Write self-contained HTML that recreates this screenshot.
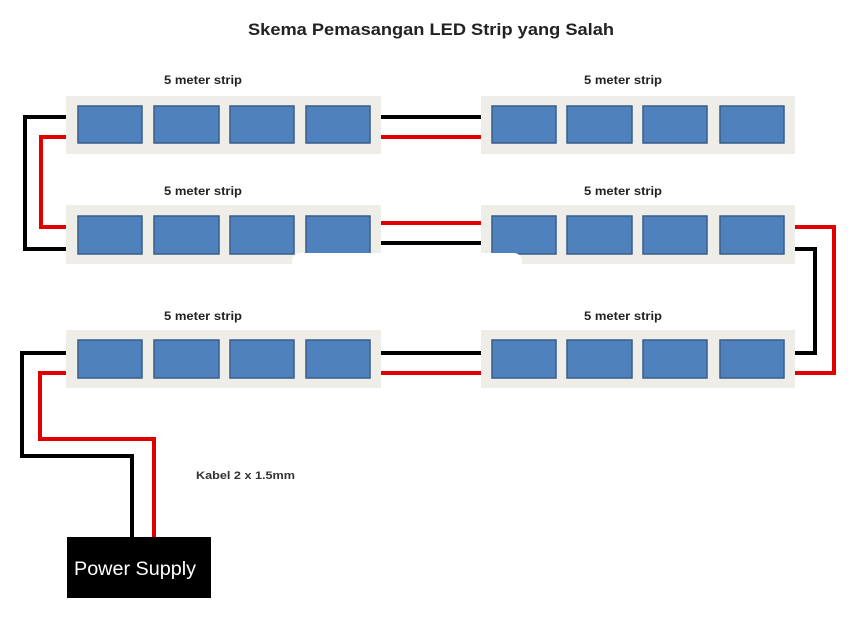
<!DOCTYPE html>
<html><head><meta charset="utf-8"><style>
body{margin:0;background:#fff;width:862px;height:625px;overflow:hidden}
</style></head><body>
<svg width="862" height="625" viewBox="0 0 862 625" xmlns="http://www.w3.org/2000/svg" font-family="Liberation Sans, sans-serif">
<rect width="862" height="625" fill="#fff"/>
<text x="431" y="35" text-anchor="middle" font-size="17" font-weight="bold" fill="#222" textLength="366" lengthAdjust="spacingAndGlyphs">Skema Pemasangan LED Strip yang Salah</text>
<g font-size="11.5" font-weight="bold" fill="#222" text-anchor="middle">
<text x="203" y="84" textLength="78" lengthAdjust="spacingAndGlyphs">5 meter strip</text><text x="623" y="84" textLength="78" lengthAdjust="spacingAndGlyphs">5 meter strip</text>
<text x="203" y="195" textLength="78" lengthAdjust="spacingAndGlyphs">5 meter strip</text><text x="623" y="195" textLength="78" lengthAdjust="spacingAndGlyphs">5 meter strip</text>
<text x="203" y="320" textLength="78" lengthAdjust="spacingAndGlyphs">5 meter strip</text><text x="623" y="320" textLength="78" lengthAdjust="spacingAndGlyphs">5 meter strip</text>
</g>
<g fill="#eeede8">
<rect x="66" y="96" width="315" height="58"/><rect x="481" y="96" width="314" height="58"/>
<rect x="66" y="205" width="315" height="59"/><rect x="481" y="205" width="314" height="59"/>
<rect x="66" y="330" width="315" height="58"/><rect x="481" y="330" width="314" height="58"/>
</g>
<g fill="#4f81bd" stroke="#385d8a" stroke-width="1.5">
<rect x="78" y="106" width="64" height="37"/><rect x="154" y="106" width="65" height="37"/><rect x="230" y="106" width="64" height="37"/><rect x="306" y="106" width="64" height="37"/>
<rect x="492" y="106" width="64" height="37"/><rect x="567" y="106" width="65" height="37"/><rect x="643" y="106" width="64" height="37"/><rect x="720" y="106" width="64" height="37"/>
<rect x="78" y="216" width="64" height="38"/><rect x="154" y="216" width="65" height="38"/><rect x="230" y="216" width="64" height="38"/><rect x="306" y="216" width="64" height="38"/>
<rect x="492" y="216" width="64" height="38"/><rect x="567" y="216" width="65" height="38"/><rect x="643" y="216" width="64" height="38"/><rect x="720" y="216" width="64" height="38"/>
<rect x="78" y="340" width="64" height="38"/><rect x="154" y="340" width="65" height="38"/><rect x="230" y="340" width="64" height="38"/><rect x="306" y="340" width="64" height="38"/>
<rect x="492" y="340" width="64" height="38"/><rect x="567" y="340" width="65" height="38"/><rect x="643" y="340" width="64" height="38"/><rect x="720" y="340" width="64" height="38"/>
</g>
<g fill="none" stroke-width="4" stroke-linejoin="miter">
<path d="M66 117 H25 V249 H66" stroke="#000"/>
<path d="M66 137 H41 V227 H66" stroke="#e00000"/>
<path d="M381 117 H481" stroke="#000"/>
<path d="M381 137 H481" stroke="#e00000"/>
<path d="M381 223 H481" stroke="#e00000"/>
<path d="M381 243 H481" stroke="#000"/>
<path d="M795 227 H834 V373 H795" stroke="#e00000"/>
<path d="M795 249 H815 V353 H795" stroke="#000"/>
<path d="M381 353 H481" stroke="#000"/>
<path d="M381 373 H481" stroke="#e00000"/>
<path d="M66 353 H22 V456 H132 V537" stroke="#000"/>
<path d="M66 373 H40 V439 H154 V537" stroke="#e00000"/>
</g>
<rect x="292" y="253" width="230" height="38" rx="8" fill="#fff"/>
<text x="196" y="479" font-size="11" font-weight="bold" fill="#333" textLength="99" lengthAdjust="spacingAndGlyphs">Kabel 2 x 1.5mm</text>
<rect x="67" y="537" width="144" height="61" fill="#000"/>
<text x="74" y="575" font-size="19" fill="#fff" textLength="122" lengthAdjust="spacingAndGlyphs">Power Supply</text>
</svg>
</body></html>
